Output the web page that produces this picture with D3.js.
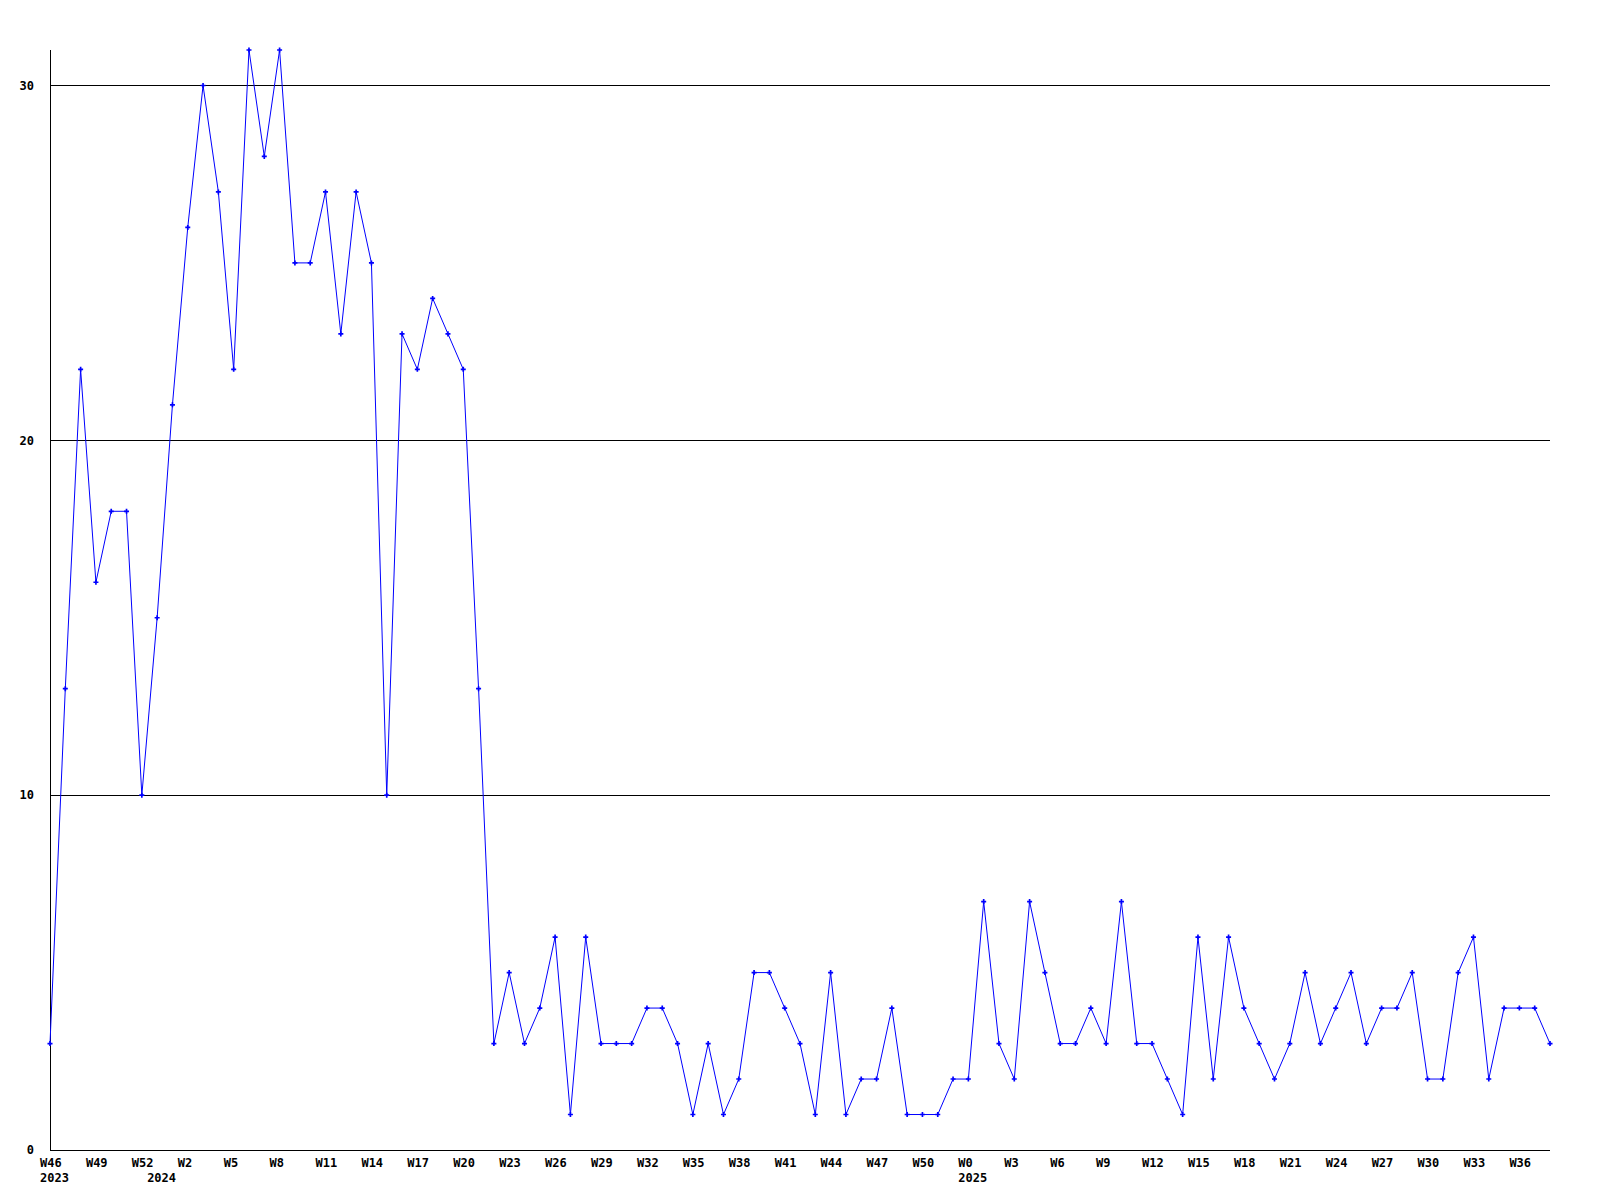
<!DOCTYPE html>
<html>
<head>
<meta charset="utf-8">
<script src="https://cdn.jsdelivr.net/npm/d3@7"></script>
<style>
	body { margin: 0; background: #fff; }
	text { font-family: "DejaVu Sans Mono", "Liberation Mono", monospace; font-weight: bold; font-size: 12px; fill: #000; }
</style>
</head>
<body>
<div id="chart"></div>
<script>
// weekly counts, 2023 W46 .. 2025 W38
var values = [3, 13, 22, 16, 18, 18, 10, 15, 21, 26,
	30, 27, 22, 31, 28, 31, 25, 25, 27, 23,
	27, 25, 10, 23, 22, 24, 23, 22, 13, 3,
	5, 3, 4, 6, 1, 6, 3, 3, 3, 4,
	4, 3, 1, 3, 1, 2, 5, 5, 4, 3,
	1, 5, 1, 2, 2, 4, 1, 1, 1, 2,
	2, 7, 3, 2, 7, 5, 3, 3, 4, 3,
	7, 3, 3, 2, 1, 6, 2, 6, 4, 3,
	2, 3, 5, 3, 4, 5, 3, 4, 4, 5,
	2, 2, 5, 6, 2, 4, 4, 4, 3];

// x tick labels every 3 weeks
var weekLabels = ['W46', 'W49', 'W52', 'W2', 'W5', 'W8', 'W11', 'W14', 'W17', 'W20',
	'W23', 'W26', 'W29', 'W32', 'W35', 'W38', 'W41', 'W44', 'W47', 'W50',
	'W0', 'W3', 'W6', 'W9', 'W12', 'W15', 'W18', 'W21', 'W24', 'W27',
	'W30', 'W33', 'W36'];
var yearLabels = [{i: 0, label: '2023'}, {i: 7, label: '2024'}, {i: 60, label: '2025'}];
var yTicks = [0, 10, 20, 30];

(function(){
	var width = 1600, height = 1200;
	var left = 50, right = 1550, top = 50, bottom = 1150;

	var svg = d3.select('#chart').append('svg')
		.attr('width', width)
		.attr('height', height);

	var x = d3.scaleLinear().domain([0, values.length - 1]).range([left, right]);
	var y = d3.scaleLinear().domain([0, 31]).range([bottom, top]);

	// grid lines
	svg.selectAll('.grid')
		.data(yTicks.filter(function(d){ return d > 0; }))
		.enter().append('line')
		.attr('x1', left).attr('x2', right)
		.attr('y1', function(d){ return y(d) + 0.5; })
		.attr('y2', function(d){ return y(d) + 0.5; })
		.style('stroke', '#000')
		.style('stroke-width', 1)
		.attr('shape-rendering', 'crispEdges');

	// axes lines
	svg.append('line')
		.attr('x1', left + 0.5).attr('x2', left + 0.5)
		.attr('y1', top).attr('y2', bottom)
		.style('stroke', '#000').attr('shape-rendering', 'crispEdges');
	svg.append('line')
		.attr('x1', left).attr('x2', right)
		.attr('y1', bottom + 0.5).attr('y2', bottom + 0.5)
		.style('stroke', '#000').attr('shape-rendering', 'crispEdges');

	// y labels
	svg.selectAll('.ylab')
		.data(yTicks)
		.enter().append('text')
		.attr('x', 34)
		.attr('y', function(d){ return y(d); })
		.attr('dy', '0.35em')
		.attr('text-anchor', 'end')
		.text(function(d){ return d; });

	// x labels
	svg.selectAll('.xlab')
		.data(weekLabels)
		.enter().append('text')
		.attr('x', function(d, i){ return x(i * 3) - 10; })
		.attr('y', 1167)
		.text(function(d){ return d; });

	svg.selectAll('.yearlab')
		.data(yearLabels)
		.enter().append('text')
		.attr('x', function(d){ return x(d.i) - 10; })
		.attr('y', 1182)
		.text(function(d){ return d.label; });

	// data line
	var line = d3.line()
		.x(function(d, i){ return x(i); })
		.y(function(d){ return y(d); });

	svg.append('path')
		.datum(values)
		.attr('d', line)
		.style('fill', 'none')
		.style('stroke', '#0000ff')
		.style('stroke-width', 1);

	svg.selectAll('.pt')
		.data(values)
		.enter().append('path')
		.attr('d', d3.symbol().type(d3.symbolCross).size(14))
		.attr('transform', function(d, i){ return 'translate(' + x(i) + ',' + y(d) + ')'; })
		.style('fill', '#0000ff');
})();
</script>
</body>
</html>
